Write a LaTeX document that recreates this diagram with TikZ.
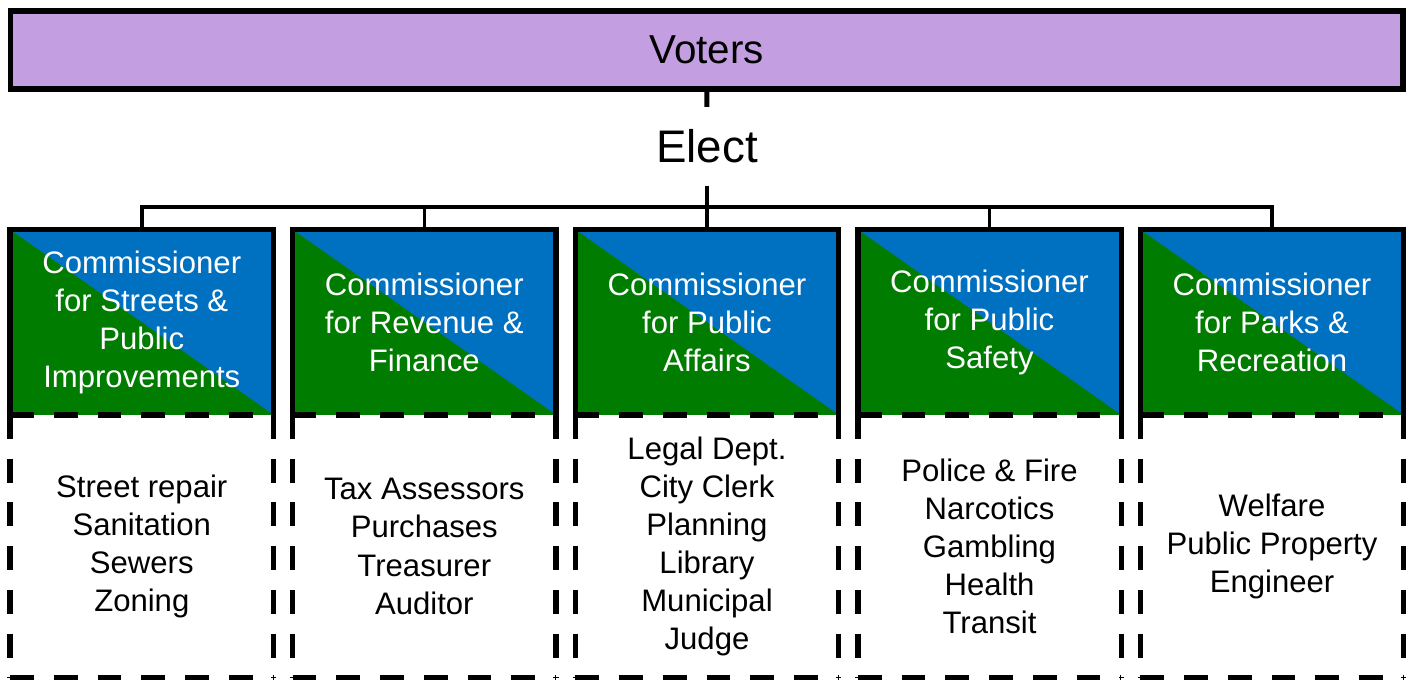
\documentclass[tikz,border=0pt]{standalone}
\usepackage{fontspec}
\setmainfont{Liberation Sans}
\usetikzlibrary{positioning}
\definecolor{votepurple}{HTML}{C39FE1}
\definecolor{commgreen}{HTML}{007C00}
\definecolor{commblue}{HTML}{0070C0}

\begin{document}
\begin{tikzpicture}[x=0.02cm, y=-0.02cm,
    heavy/.style={line width=3.1pt},
    link/.style={line width=2pt},
    commbox/.style={minimum width=5.27cm, minimum height=3.706cm, inner sep=0pt, outer sep=0pt,
        fill=commblue, text=white, align=center, font=\fontsize{17.7}{21.5}\selectfont,
        path picture={\fill[commgreen] (path picture bounding box.north west) -- (path picture bounding box.south east) -- (path picture bounding box.south west) -- cycle;}},
    dutybox/.style={minimum width=5.27cm, minimum height=5.26cm, inner sep=0pt, outer sep=0pt,
        fill=white, align=center, font=\fontsize{17.7}{21.7}\selectfont},
    dashline/.style={line width=3.1pt, dash pattern=on 13.6pt off 11.3pt}]
    \useasboundingbox (0,0) rectangle (1415,679);

    % voters and election
    \node[draw, heavy, fill=votepurple, minimum width=27.85cm, minimum height=1.56cm, inner sep=0pt, outer sep=0pt,
        font=\fontsize{23}{27}\selectfont] (voters) at (706.75,50) {Voters};
    \node[minimum height=1.58cm, inner sep=0pt, outer sep=0pt, font=\fontsize{26}{31}\selectfont] (elect) at (707,146.3) {Elect};
    \coordinate (bar) at (707,207);

    % commissioners
    \node[commbox] (c1) at (141.8,322.3) {Commissioner\\for Streets \&\\Public\\Improvements};
    \node[commbox] (c2) at (424.3,322.3) {Commissioner\\for Revenue \&\\Finance};
    \node[commbox] (c3) at (707,322.3) {Commissioner\\for Public\\Affairs};
    \node[commbox] (c4) at (989.5,322.3) {Commissioner\\for Public\\Safety};
    \node[commbox] (c5) at (1272,322.3) {Commissioner\\for Parks \&\\Recreation};

    % departments
    \node[dutybox, below=0pt of c1] (d1) {Street repair\\Sanitation\\Sewers\\Zoning};
    \node[dutybox, below=0pt of c2] (d2) {Tax Assessors\\Purchases\\Treasurer\\Auditor};
    \node[dutybox, below=0pt of c3] (d3) {Legal Dept.\\City Clerk\\Planning\\Library\\Municipal\\Judge};
    \node[dutybox, below=0pt of c4] (d4) {Police \& Fire\\Narcotics\\Gambling\\Health\\Transit};
    \node[dutybox, below=0pt of c5] (d5) {Welfare\\Public Property\\Engineer};

    \foreach \n in {1,...,5} {
        \draw[heavy] (c\n.south west) -- (c\n.north west) -- (c\n.north east) -- (c\n.south east);
        \draw[dashline] (d\n.north west) -- (d\n.south west);
        \draw[dashline] (d\n.north east) -- (d\n.south east);
        \draw[dashline] (d\n.north west) -- (d\n.north east);
        \draw[dashline] (d\n.south west) -- (d\n.south east);
    }

    % connectors
    \draw[line width=2.8pt] (voters) -- (elect);
    \draw[line width=2.8pt] (elect) -- (bar);
    \draw[link] (c1.north) |- (bar) -| (c5.north);
    \draw[link] (c2.north) -- (c2.north |- bar);
    \draw[link] (c3.north) -- (c3.north |- bar);
    \draw[link] (c4.north) -- (c4.north |- bar);
\end{tikzpicture}
\end{document}
